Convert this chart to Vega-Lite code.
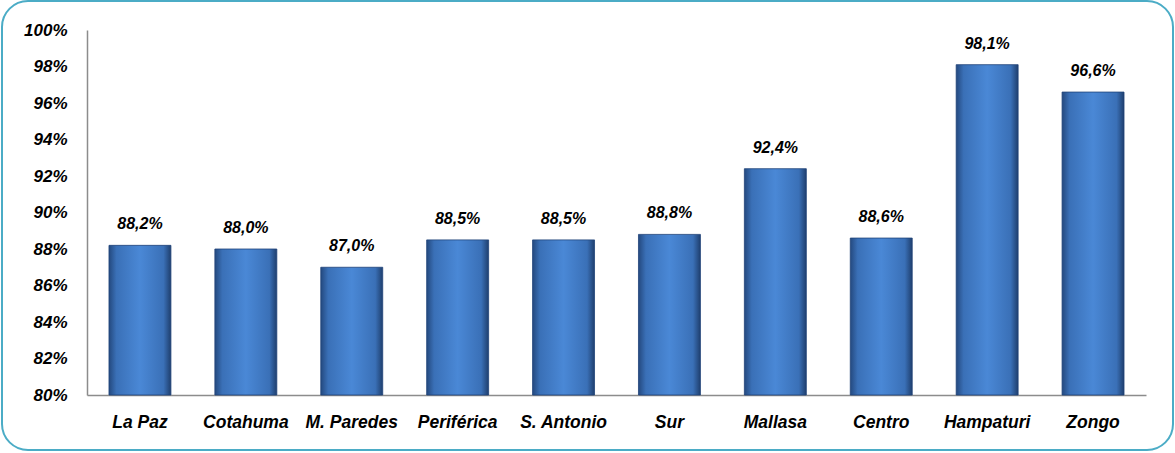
{
  "$schema": "https://vega.github.io/schema/vega-lite/v6.json",
  "width": 1171,
  "height": 449,
  "autosize": {"type": "none"},
  "padding": {"left": 2, "top": 1, "right": 2, "bottom": 3},
  "background": "white",
  "config": {
    "locale": {"number": {"decimal": ",", "thousands": ".", "grouping": [3], "currency": ["", "€"]}},
    "view": {"stroke": "#4bacc6", "strokeWidth": 2, "cornerRadius": 26, "fill": "white"},
    "font": "Liberation Sans"
  },
  "data": {
    "values": [
      {"zona": "La Paz", "valor": 0.882},
      {"zona": "Cotahuma", "valor": 0.880},
      {"zona": "M. Paredes", "valor": 0.870},
      {"zona": "Periférica", "valor": 0.885},
      {"zona": "S. Antonio", "valor": 0.885},
      {"zona": "Sur", "valor": 0.888},
      {"zona": "Mallasa", "valor": 0.924},
      {"zona": "Centro", "valor": 0.886},
      {"zona": "Hampaturi", "valor": 0.981},
      {"zona": "Zongo", "valor": 0.966}
    ]
  },
  "encoding": {
    "x": {
      "field": "zona", "type": "nominal", "sort": null,
      "scale": {"range": [85, 1144], "paddingInner": 0.415, "paddingOuter": 0.2075},
      "axis": {
        "title": null, "labelAngle": 0, "offset": -55, "ticks": false,
        "domainColor": "#8c8c8c", "domainWidth": 1.5,
        "labelFont": "Liberation Sans", "labelFontSize": 17.5, "labelFontWeight": "bold", "labelFontStyle": "italic",
        "labelColor": "#000000", "labelPadding": 18
      }
    },
    "y": {
      "field": "valor", "type": "quantitative",
      "scale": {"domain": [0.8, 1.0], "range": [394, 29], "zero": false, "nice": false},
      "axis": {
        "title": null, "format": ".0%", "values": [0.8, 0.82, 0.84, 0.86, 0.88, 0.9, 0.92, 0.94, 0.96, 0.98, 1.0],
        "offset": -85, "ticks": false, "grid": false,
        "domainColor": "#8c8c8c", "domainWidth": 1.5,
        "labelFont": "Liberation Sans", "labelFontSize": 17, "labelFontWeight": "bold", "labelFontStyle": "italic",
        "labelColor": "#000000", "labelPadding": 20
      }
    }
  },
  "layer": [
    {
      "mark": {
        "type": "bar",
        "stroke": "#1f4378", "strokeWidth": 0.8,
        "color": {
          "gradient": "linear", "x1": 0, "x2": 1, "y1": 0, "y2": 0,
          "stops": [
            {"offset": 0, "color": "#24497f"},
            {"offset": 0.12, "color": "#3a70b7"},
            {"offset": 0.5, "color": "#4a88d6"},
            {"offset": 0.88, "color": "#3a70b7"},
            {"offset": 1, "color": "#1f3f6e"}
          ]
        }
      },
      "encoding": {
        "y2": {"datum": 0.8}
      }
    },
    {
      "mark": {
        "type": "text", "dy": -16, "baseline": "alphabetic", "align": "center",
        "font": "Liberation Sans", "fontSize": 16, "fontWeight": "bold", "fontStyle": "italic", "color": "#000000"
      },
      "encoding": {
        "text": {"field": "valor", "type": "quantitative", "format": ".1%"}
      }
    }
  ]
}
